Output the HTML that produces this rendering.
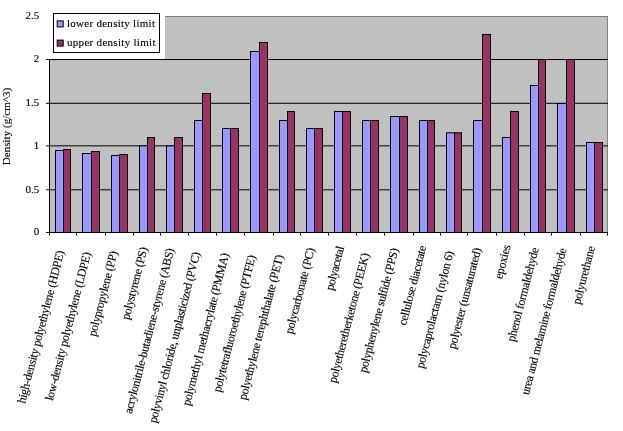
<!DOCTYPE html><html><head><meta charset="utf-8"><title>Density chart</title>
<style>html,body{margin:0;padding:0;background:#fff;}svg{display:block;}text{font-family:"Liberation Serif","Times New Roman",serif;font-size:11px;fill:#000;stroke:#000;stroke-width:0.12px;}</style></head><body>
<svg width="623" height="431" viewBox="0 0 623 431">
<rect x="0" y="0" width="623" height="431" fill="#fff"/>
<rect x="49.5" y="16.5" width="558" height="216" fill="#c0c0c0" stroke="#808080" stroke-width="1"/>
<line x1="49" y1="189.8" x2="608" y2="189.8" stroke="#000" stroke-width="1"/>
<line x1="49" y1="145.85" x2="608" y2="145.85" stroke="#000" stroke-width="1"/>
<line x1="49" y1="103.3" x2="608" y2="103.3" stroke="#000" stroke-width="1"/>
<line x1="49" y1="59.5" x2="608" y2="59.5" stroke="#000" stroke-width="1"/>
<rect x="55.5" y="150.5" width="8" height="82" fill="#9999ff" stroke="#000" stroke-width="1"/>
<rect x="63.5" y="149.5" width="7" height="83" fill="#993366" stroke="#000" stroke-width="1"/>
<rect x="82.5" y="153.5" width="9" height="79" fill="#9999ff" stroke="#000" stroke-width="1"/>
<rect x="91.5" y="151.5" width="8" height="81" fill="#993366" stroke="#000" stroke-width="1"/>
<rect x="111.5" y="155.5" width="8" height="77" fill="#9999ff" stroke="#000" stroke-width="1"/>
<rect x="119.5" y="154.5" width="8" height="78" fill="#993366" stroke="#000" stroke-width="1"/>
<rect x="139.5" y="145.85" width="8" height="86.65" fill="#9999ff" stroke="#000" stroke-width="1"/>
<rect x="147.5" y="137.5" width="7" height="95" fill="#993366" stroke="#000" stroke-width="1"/>
<rect x="166.5" y="145.85" width="8" height="86.65" fill="#9999ff" stroke="#000" stroke-width="1"/>
<rect x="174.5" y="137.5" width="8" height="95" fill="#993366" stroke="#000" stroke-width="1"/>
<rect x="194.5" y="120.5" width="8" height="112" fill="#9999ff" stroke="#000" stroke-width="1"/>
<rect x="202.5" y="93.5" width="8" height="139" fill="#993366" stroke="#000" stroke-width="1"/>
<rect x="222.5" y="128.5" width="8" height="104" fill="#9999ff" stroke="#000" stroke-width="1"/>
<rect x="230.5" y="128.5" width="8" height="104" fill="#993366" stroke="#000" stroke-width="1"/>
<rect x="250.5" y="51.5" width="9" height="181" fill="#9999ff" stroke="#000" stroke-width="1"/>
<rect x="259.5" y="42.5" width="8" height="190" fill="#993366" stroke="#000" stroke-width="1"/>
<rect x="279.5" y="120.5" width="8" height="112" fill="#9999ff" stroke="#000" stroke-width="1"/>
<rect x="287.5" y="111.5" width="7" height="121" fill="#993366" stroke="#000" stroke-width="1"/>
<rect x="306.5" y="128.5" width="8" height="104" fill="#9999ff" stroke="#000" stroke-width="1"/>
<rect x="314.5" y="128.5" width="8" height="104" fill="#993366" stroke="#000" stroke-width="1"/>
<rect x="334.5" y="111.5" width="8" height="121" fill="#9999ff" stroke="#000" stroke-width="1"/>
<rect x="342.5" y="111.5" width="8" height="121" fill="#993366" stroke="#000" stroke-width="1"/>
<rect x="362.5" y="120.5" width="8" height="112" fill="#9999ff" stroke="#000" stroke-width="1"/>
<rect x="370.5" y="120.5" width="8" height="112" fill="#993366" stroke="#000" stroke-width="1"/>
<rect x="390.5" y="116.5" width="9" height="116" fill="#9999ff" stroke="#000" stroke-width="1"/>
<rect x="399.5" y="116.5" width="8" height="116" fill="#993366" stroke="#000" stroke-width="1"/>
<rect x="419.5" y="120.5" width="8" height="112" fill="#9999ff" stroke="#000" stroke-width="1"/>
<rect x="427.5" y="120.5" width="7" height="112" fill="#993366" stroke="#000" stroke-width="1"/>
<rect x="446.5" y="132.8" width="8" height="99.69999999999999" fill="#9999ff" stroke="#000" stroke-width="1"/>
<rect x="454.5" y="132.8" width="7" height="99.69999999999999" fill="#993366" stroke="#000" stroke-width="1"/>
<rect x="473.5" y="120.5" width="9" height="112" fill="#9999ff" stroke="#000" stroke-width="1"/>
<rect x="482.5" y="34.5" width="8" height="198" fill="#993366" stroke="#000" stroke-width="1"/>
<rect x="502.5" y="137.5" width="8" height="95" fill="#9999ff" stroke="#000" stroke-width="1"/>
<rect x="510.5" y="111.5" width="8" height="121" fill="#993366" stroke="#000" stroke-width="1"/>
<rect x="530.5" y="85.5" width="8" height="147" fill="#9999ff" stroke="#000" stroke-width="1"/>
<rect x="538.5" y="59.5" width="7" height="173" fill="#993366" stroke="#000" stroke-width="1"/>
<rect x="557.5" y="103.5" width="9" height="129" fill="#9999ff" stroke="#000" stroke-width="1"/>
<rect x="566.5" y="59.5" width="8" height="173" fill="#993366" stroke="#000" stroke-width="1"/>
<rect x="586.5" y="142.5" width="8" height="90" fill="#9999ff" stroke="#000" stroke-width="1"/>
<rect x="594.5" y="142.5" width="8" height="90" fill="#993366" stroke="#000" stroke-width="1"/>
<line x1="49.5" y1="16" x2="49.5" y2="233" stroke="#000" stroke-width="1"/>
<line x1="49" y1="232.5" x2="608" y2="232.5" stroke="#000" stroke-width="1"/>
<line x1="46" y1="232.5" x2="50" y2="232.5" stroke="#000" stroke-width="1"/>
<text x="39.3" y="235.2" text-anchor="end">0</text>
<line x1="46" y1="189.8" x2="50" y2="189.8" stroke="#000" stroke-width="1"/>
<text x="39.3" y="192.5" text-anchor="end">0.5</text>
<line x1="46" y1="145.85" x2="50" y2="145.85" stroke="#000" stroke-width="1"/>
<text x="39.3" y="148.54999999999998" text-anchor="end">1</text>
<line x1="46" y1="103.3" x2="50" y2="103.3" stroke="#000" stroke-width="1"/>
<text x="39.3" y="106.0" text-anchor="end">1.5</text>
<line x1="46" y1="59.5" x2="50" y2="59.5" stroke="#000" stroke-width="1"/>
<text x="39.3" y="62.2" text-anchor="end">2</text>
<line x1="46" y1="16.5" x2="50" y2="16.5" stroke="#000" stroke-width="1"/>
<text x="39.3" y="19.2" text-anchor="end">2.5</text>
<line x1="49.5" y1="232" x2="49.5" y2="235.6" stroke="#000" stroke-width="1"/>
<line x1="76.5" y1="232" x2="76.5" y2="235.6" stroke="#000" stroke-width="1"/>
<line x1="105.5" y1="232" x2="105.5" y2="235.6" stroke="#000" stroke-width="1"/>
<line x1="133.5" y1="232" x2="133.5" y2="235.6" stroke="#000" stroke-width="1"/>
<line x1="160.5" y1="232" x2="160.5" y2="235.6" stroke="#000" stroke-width="1"/>
<line x1="188.5" y1="232" x2="188.5" y2="235.6" stroke="#000" stroke-width="1"/>
<line x1="216.5" y1="232" x2="216.5" y2="235.6" stroke="#000" stroke-width="1"/>
<line x1="244.5" y1="232" x2="244.5" y2="235.6" stroke="#000" stroke-width="1"/>
<line x1="273.5" y1="232" x2="273.5" y2="235.6" stroke="#000" stroke-width="1"/>
<line x1="300.5" y1="232" x2="300.5" y2="235.6" stroke="#000" stroke-width="1"/>
<line x1="328.5" y1="232" x2="328.5" y2="235.6" stroke="#000" stroke-width="1"/>
<line x1="356.5" y1="232" x2="356.5" y2="235.6" stroke="#000" stroke-width="1"/>
<line x1="384.5" y1="232" x2="384.5" y2="235.6" stroke="#000" stroke-width="1"/>
<line x1="413.5" y1="232" x2="413.5" y2="235.6" stroke="#000" stroke-width="1"/>
<line x1="440.5" y1="232" x2="440.5" y2="235.6" stroke="#000" stroke-width="1"/>
<line x1="467.5" y1="232" x2="467.5" y2="235.6" stroke="#000" stroke-width="1"/>
<line x1="496.5" y1="232" x2="496.5" y2="235.6" stroke="#000" stroke-width="1"/>
<line x1="524.5" y1="232" x2="524.5" y2="235.6" stroke="#000" stroke-width="1"/>
<line x1="551.5" y1="232" x2="551.5" y2="235.6" stroke="#000" stroke-width="1"/>
<line x1="580.5" y1="232" x2="580.5" y2="235.6" stroke="#000" stroke-width="1"/>
<line x1="607.5" y1="232" x2="607.5" y2="235.6" stroke="#000" stroke-width="1"/>
<text transform="translate(24.9,404.1) rotate(-75.5)" style="font-size:12px" textLength="157.5" lengthAdjust="spacing">high-density polyethylene (HDPE)</text>
<text transform="translate(52.7,401.3) rotate(-75.5)" style="font-size:12px" textLength="153.1" lengthAdjust="spacing">low-density polyethylene (LDPE)</text>
<text transform="translate(95.7,336.9) rotate(-75.5)" style="font-size:12px" textLength="87.6" lengthAdjust="spacing">polypropylene (PP)</text>
<text transform="translate(129.0,320.3) rotate(-75.5)" style="font-size:12px" textLength="74.5" lengthAdjust="spacing">polystyrene (PS)</text>
<text transform="translate(131.7,414.3) rotate(-75.5)" style="font-size:12px" textLength="170.4" lengthAdjust="spacing">acrylonitrile-butadiene-styrene (ABS)</text>
<text transform="translate(156.2,423.6) rotate(-75.5)" style="font-size:12px" textLength="176.2" lengthAdjust="spacing">polyvinyl chloride, unplasticized (PVC)</text>
<text transform="translate(189.8,406.2) rotate(-75.5)" style="font-size:12px" textLength="157.0" lengthAdjust="spacing">polymethyl methacrylate (PMMA)</text>
<text transform="translate(220.5,392.7) rotate(-75.5)" style="font-size:12px" textLength="141.1" lengthAdjust="spacing">polytetrafluoroethylene (PTFE)</text>
<text transform="translate(246.0,400.6) rotate(-75.5)" style="font-size:12px" textLength="149.6" lengthAdjust="spacing">polyethylene terephthalate (PET)</text>
<text transform="translate(292.5,334.6) rotate(-75.5)" style="font-size:12px" textLength="88.6" lengthAdjust="spacing">polycarbonate (PC)</text>
<text transform="translate(333.0,291.1) rotate(-75.5)" style="font-size:12px" textLength="45.2" lengthAdjust="spacing">polyacetal</text>
<text transform="translate(336.0,383.5) rotate(-75.5)" style="font-size:12px" textLength="133.5" lengthAdjust="spacing">polyetheretherketone (PEEK)</text>
<text transform="translate(366.4,373.3) rotate(-75.5)" style="font-size:12px" textLength="128.2" lengthAdjust="spacing">polyphenylene sulfide (PPS)</text>
<text transform="translate(405.9,326.1) rotate(-75.5)" style="font-size:12px" textLength="82.1" lengthAdjust="spacing">cellulose diacetate</text>
<text transform="translate(423.4,369.1) rotate(-75.5)" style="font-size:12px" textLength="120.8" lengthAdjust="spacing">polycaprolactam (nylon 6)</text>
<text transform="translate(455.3,349.4) rotate(-75.5)" style="font-size:12px" textLength="103.9" lengthAdjust="spacing">polyester (unsaturated)</text>
<text transform="translate(502.0,279.5) rotate(-75.5)" style="font-size:12px" textLength="34.9" lengthAdjust="spacing">epoxies</text>
<text transform="translate(514.6,342.2) rotate(-75.5)" style="font-size:12px" textLength="96.7" lengthAdjust="spacing">phenol formaldehyde</text>
<text transform="translate(528.7,395.5) rotate(-75.5)" style="font-size:12px" textLength="151.3" lengthAdjust="spacing">urea and melamine formaldehyde</text>
<text transform="translate(580.0,305.1) rotate(-75.5)" style="font-size:12px" textLength="60.0" lengthAdjust="spacing">polyurethane</text>
<text transform="translate(10,126.5) rotate(-90)" text-anchor="middle" style="font-size:11.1px">Density (g/cm^3)</text>
<rect x="44" y="10" width="121" height="49" fill="#fff"/>
<rect x="53.5" y="13.5" width="106" height="39" fill="#fff" stroke="#000" stroke-width="1"/>
<rect x="57.2" y="20.9" width="6" height="6" fill="#9999ff" stroke="#000" stroke-width="1"/>
<rect x="57.2" y="40.1" width="6" height="6" fill="#993366" stroke="#000" stroke-width="1"/>
<text x="67" y="27" textLength="88" lengthAdjust="spacing">lower density limit</text>
<text x="67" y="46" textLength="88.5" lengthAdjust="spacing">upper density limit</text>
</svg></body></html>
